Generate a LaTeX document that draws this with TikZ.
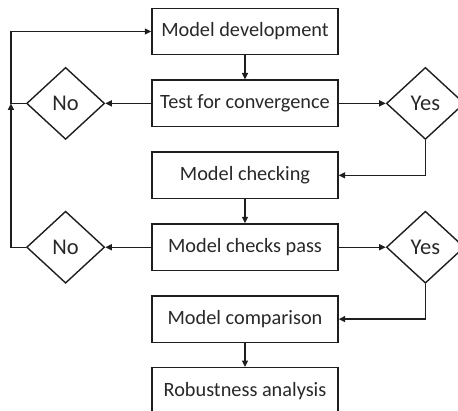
\documentclass[tikz,border=0pt]{standalone}
\usepackage{fontspec}
\setmainfont{Carlito}
\usetikzlibrary{arrows.meta,positioning,shapes.geometric}
\definecolor{inkgray}{RGB}{30,30,30}
\definecolor{txtgray}{RGB}{40,40,40}

\begin{document}
\begin{tikzpicture}[x=1pt, y=1pt, font=\fontsize{20.3}{23}\selectfont, node distance=24pt,
      box/.style={rectangle, draw=inkgray, line width=1.4pt, text=txtgray,
                  minimum width=186pt, minimum height=46.5pt, inner sep=0pt},
      dec/.style={diamond, draw=inkgray, line width=1.4pt, text=txtgray,
                  font=\fontsize{22.5}{25}\selectfont,
                  minimum width=78pt, minimum height=72pt, inner sep=0pt},
      arr/.style={-{Triangle[length=6.5pt,width=6pt]}, line width=1.4pt, inkgray}]
    \clip (0,0) rectangle (458,-410);
    \node[box] (dev) at (245,-31.5) {Model development};
    \node[box, below=of dev] (conv) {Test for convergence};
    \node[box, below=of conv] (chk) {Model checking};
    \node[box, below=of chk] (pass) {Model checks pass};
    \node[box, below=of pass] (cmp) {Model comparison};
    \node[box, below=of cmp] (rob) {Robustness analysis};
    \node[dec, left=46pt of conv] (no1) {No};
    \node[dec, right=47pt of conv] (yes1) {Yes};
    \node[dec, left=46pt of pass] (no2) {No};
    \node[dec, right=47pt of pass] (yes2) {Yes};
    \coordinate[left=15pt of no1.west] (back);
    % main line
    \draw[arr] (dev) -- (conv);
    \draw[arr] (chk) -- (pass);
    \draw[arr] (cmp) -- (rob);
    % decisions
    \draw[arr] (conv) -- (no1);
    \draw[arr] (conv) -- (yes1);
    \draw[arr] (pass) -- (no2);
    \draw[arr] (pass) -- (yes2);
    \draw[arr] (yes1.south) |- (chk.east);
    \draw[arr] (yes2.south) |- (cmp.east);
    % loop back
    \draw[arr] (no2.west) -| (back);
    \draw[arr] (no1.west) -- (back) |- (dev.west);
  \end{tikzpicture}
\end{document}
